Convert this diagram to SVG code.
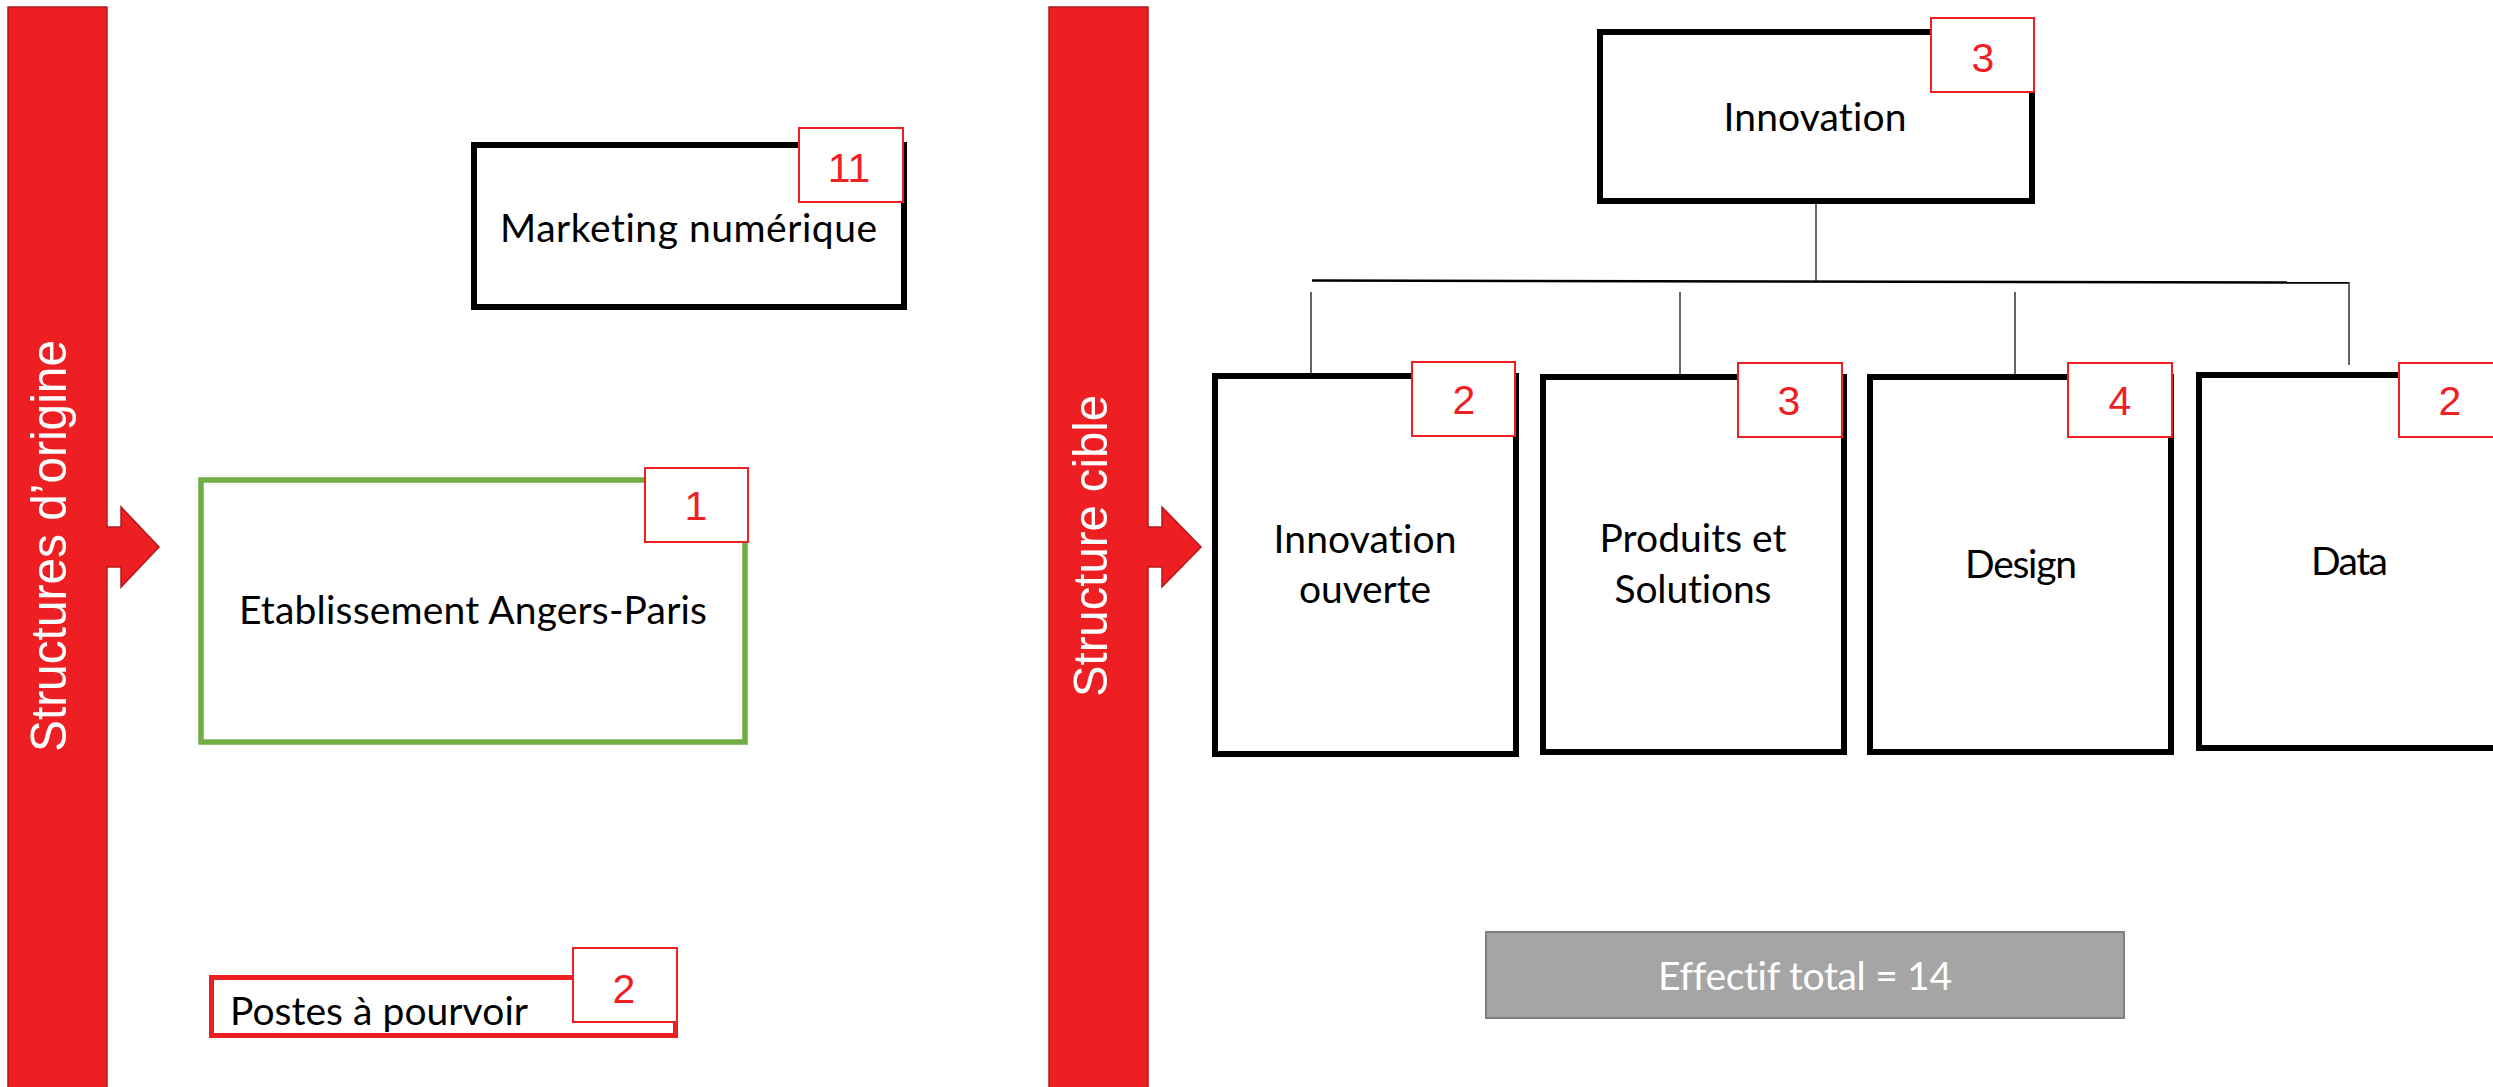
<svg xmlns="http://www.w3.org/2000/svg" width="2493" height="1087" viewBox="0 0 2493 1087">
<style>
.bar{fill:#EE1F23;stroke:#B5171C;stroke-width:1.5}
.bartxt{font-family:"Liberation Sans",Arial,sans-serif;fill:#fff;text-anchor:middle}
.box{fill:#fff;stroke:#000;stroke-width:6}
.lbl{font-family:Lato,"Open Sans",sans-serif;font-size:39px;fill:#000;text-anchor:middle;font-variant-ligatures:none}
.badge{fill:#fff;stroke:#EE2024;stroke-width:2}
.num{font-family:"Liberation Sans",Arial,sans-serif;font-size:41px;fill:#EE2024;text-anchor:middle}
.conn{stroke:#333;stroke-width:1.5;fill:none}
</style>
<rect width="2493" height="1087" fill="#fff"/>
<g id="bar-origine">
<path class="bar" d="M8,7 H107 V527 H121 V507 L159,547 L121,587 V567 H107 V1095 H8 Z"/>
<text class="bartxt" font-size="50" transform="translate(66,546) rotate(-90)" textLength="412" lengthAdjust="spacingAndGlyphs">Structures d’origine</text>
</g>
<g id="bar-cible">
<path class="bar" d="M1049,7 H1148 V527 H1162 V507 L1201,547 L1162,587 V567 H1148 V1095 H1049 Z"/>
<text class="bartxt" font-size="49" transform="translate(1107,546) rotate(-90)" textLength="302" lengthAdjust="spacingAndGlyphs">Structure cible</text>
</g>
<g id="connectors">
<line class="conn" x1="1816" y1="204" x2="1816" y2="281"/>
<line x1="1312" y1="280.5" x2="2349" y2="282.5" stroke="#000" stroke-width="2.5"/>
<line class="conn" x1="2349" y1="282" x2="2349" y2="365"/>
<line class="conn" x1="1311" y1="292" x2="1311" y2="373"/>
<line class="conn" x1="1680" y1="292" x2="1680" y2="374"/>
<line class="conn" x1="2015" y1="292" x2="2015" y2="374"/>
</g>
<g id="marketing">
<rect class="box" x="474" y="145" width="430" height="162"/>
<text class="lbl" x="688.5" y="242" textLength="377" lengthAdjust="spacing">Marketing numérique</text>
<rect class="badge" x="799" y="128" width="104" height="74"/>
<text class="num" x="849" y="182">11</text>
</g>
<g id="etablissement">
<rect class="box" x="201" y="480" width="544" height="262" style="stroke:#70AD47;stroke-width:5.5"/>
<text class="lbl" x="473" y="624" textLength="468" lengthAdjust="spacing">Etablissement Angers-Paris</text>
<rect class="badge" x="645" y="468" width="103" height="74"/>
<text class="num" x="696" y="520">1</text>
</g>
<g id="postes">
<rect class="box" x="211.5" y="977.5" width="464" height="58" style="stroke:#EE1F23;stroke-width:5"/>
<text class="lbl" x="230" y="1025" style="text-anchor:start" textLength="298" lengthAdjust="spacing">Postes à pourvoir</text>
<rect class="badge" x="573" y="948" width="104" height="74"/>
<text class="num" x="624" y="1003">2</text>
</g>
<g id="innovation">
<rect class="box" x="1600" y="32" width="432" height="169"/>
<text class="lbl" x="1815" y="131" textLength="183" lengthAdjust="spacing">Innovation</text>
<rect class="badge" x="1931" y="18" width="103" height="74"/>
<text class="num" x="1983" y="72">3</text>
</g>
<g id="innovation-ouverte">
<rect class="box" x="1215" y="376" width="301" height="378"/>
<text class="lbl" x="1365" y="553" textLength="183" lengthAdjust="spacing">Innovation</text>
<text class="lbl" x="1365" y="603" textLength="132" lengthAdjust="spacing">ouverte</text>
<rect class="badge" x="1412" y="362" width="103" height="74"/>
<text class="num" x="1464" y="414">2</text>
</g>
<g id="produits">
<rect class="box" x="1543" y="377" width="301" height="375"/>
<text class="lbl" x="1693" y="552" textLength="187" lengthAdjust="spacing">Produits et</text>
<text class="lbl" x="1693" y="603" textLength="157" lengthAdjust="spacing">Solutions</text>
<rect class="badge" x="1738" y="363" width="104" height="74"/>
<text class="num" x="1789" y="415">3</text>
</g>
<g id="design">
<rect class="box" x="1870" y="377" width="301" height="375"/>
<text class="lbl" x="2021" y="578" textLength="112" lengthAdjust="spacing">Design</text>
<rect class="badge" x="2068" y="363" width="104" height="74"/>
<text class="num" x="2120" y="415">4</text>
</g>
<g id="data">
<rect class="box" x="2199" y="375" width="310" height="373"/>
<text class="lbl" x="2349.5" y="575" textLength="77" lengthAdjust="spacing">Data</text>
<rect class="badge" x="2399" y="363" width="104" height="74"/>
<text class="num" x="2450" y="415">2</text>
</g>
<g id="effectif">
<rect x="1486" y="932" width="638" height="86" fill="#A5A5A5" stroke="#7F7F7F" stroke-width="2"/>
<text class="lbl" x="1805" y="990" style="fill:#fff" textLength="294" lengthAdjust="spacing">Effectif total = 14</text>
</g>
</svg>
